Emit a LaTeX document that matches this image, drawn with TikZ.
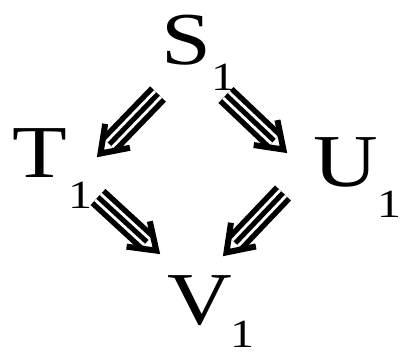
\documentclass[tikz,border=0pt]{standalone}
\usepackage{fontspec}
\setmainfont{Liberation Serif}[FakeStretch=1.2]
\usetikzlibrary{calc}

% three parallel strokes and an open head
\newcommand{\triarrow}[2]{%
  \draw[triline] (#1) -- ($(#2)!9.75pt!(#1)$);
  \draw[barb] ($(#2)!22.5pt!35:(#1)$) -- (#2) -- ($(#2)!22.5pt!-35:(#1)$);
}

\begin{document}
\begin{tikzpicture}[
    x=0.75pt, y=-0.75pt,
    letter/.style={inner sep=0pt, anchor=base, font=\fontsize{56}{60}\selectfont},
    idx/.style={inner sep=0pt, anchor=base, font=\fontsize{30}{32}\selectfont},
    triline/.style={draw=black, line width=16.5pt,
        postaction={draw=white, line width=8.25pt},
        postaction={draw=black, line width=3.75pt}},
    barb/.style={draw=black, line width=4.5pt, line join=miter}
]
    \useasboundingbox (0,0) rectangle (400,355);

    % Objects
    \node[letter] (S) at (186,64) {S};
    \node[letter] (T) at (40,177) {T};
    \node[letter] (U) at (346,186) {U};
    \node[letter] (V) at (200,324) {V};

    % Indices
    \node[idx] (s1) at (223,90) {1};
    \node[idx] (t1) at (80,208) {1};
    \node[idx] (u1) at (389,217) {1};
    \node[idx] (v1) at (242,347) {1};

    % Arrow ends
    \coordinate (st-a) at (158,94);
    \coordinate (st-b) at (100.5,153.5);
    \coordinate (su-a) at (226,95);
    \coordinate (su-b) at (283.4,149.5);
    \coordinate (tv-a) at (98,197);
    \coordinate (tv-b) at (156.3,250.6);
    \coordinate (uv-a) at (283,193);
    \coordinate (uv-b) at (226.5,252.4);

    % Arrows
    \triarrow{st-a}{st-b}
    \triarrow{su-a}{su-b}
    \triarrow{tv-a}{tv-b}
    \triarrow{uv-a}{uv-b}
\end{tikzpicture}
\end{document}
